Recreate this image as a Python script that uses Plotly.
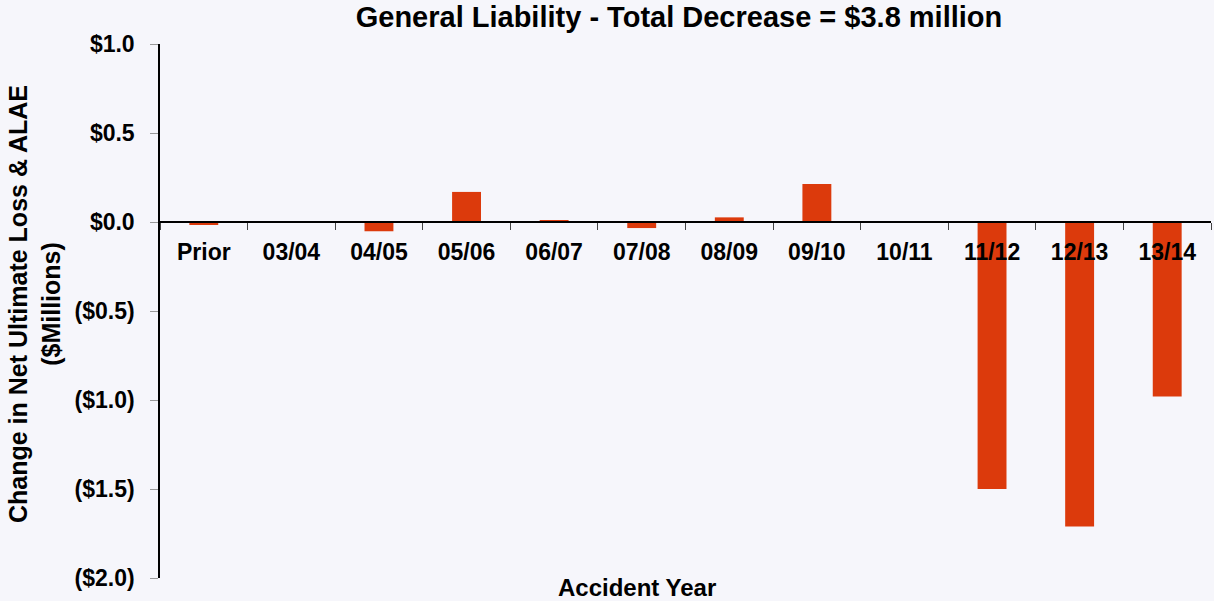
import plotly.graph_objects as go

categories = ["Prior", "03/04", "04/05", "05/06", "06/07", "07/08", "08/09",
              "09/10", "10/11", "11/12", "12/13", "13/14"]
values = [-0.017, -0.005, -0.052, 0.169, 0.010, -0.034, 0.026,
          0.213, 0.0, -1.50, -1.71, -0.98]
y_tickvals = [1.0, 0.5, 0.0, -0.5, -1.0, -1.5, -2.0]
y_ticktext = ["$1.0", "$0.5", "$0.0", "($0.5)", "($1.0)", "($1.5)", "($2.0)"]

FONT = "Liberation Sans, Arial, sans-serif"
BG = "#F6F6FB"

W, H = 1214, 601
ML, MR, MT, MB = 160, 3, 44, 23
PW, PH = W - ML - MR, H - MT - MB

fig = go.Figure()
fig.add_trace(go.Bar(
    x=categories, y=values,
    marker=dict(color="#DC3A0C", line=dict(width=0)),
    width=0.33,
))

fig.update_layout(
    width=W, height=H,
    paper_bgcolor=BG, plot_bgcolor=BG,
    margin=dict(l=ML, r=MR, t=MT, b=MB),
    showlegend=False,
    font=dict(family=FONT, color="black"),
    title=dict(
        text="<b>General Liability - Total Decrease = $3.8 million</b>",
        x=679 / W, xanchor="center", y=1 - 17 / H, yanchor="middle",
        xref="container", yref="container",
        font=dict(size=29, family=FONT, color="black"),
    ),
    xaxis=dict(
        type="category",
        range=[-0.5, 11.5],
        anchor="free", position=2/3,
        showline=True, linecolor="black", linewidth=2,
        ticks="outside", tickson="boundaries", ticklen=7, tickcolor="#444",
        tickwidth=1, ticklabelstandoff=9,
        tickfont=dict(size=23, family=FONT, color="black", weight="bold"),
        showgrid=False, zeroline=False,
    ),
    yaxis=dict(
        range=[-2.0, 1.0],
        tickvals=y_tickvals, ticktext=y_ticktext,
        tickfont=dict(size=23, family=FONT, color="black", weight="bold"),
        showline=True, linecolor="black", linewidth=1.5,
        ticks="outside", ticklen=8, tickcolor="#999", tickwidth=1,
        ticklabelstandoff=11,
        showgrid=False, zeroline=False,
    ),
    annotations=[
        dict(text="<b>Change in Net Ultimate Loss & ALAE<br>($Millions)</b>",
             x=(34 - ML) / PW, y=(H - MB - 304) / PH, xref="paper", yref="paper",
             xanchor="center", yanchor="middle", textangle=-90, showarrow=False,
             font=dict(size=25, family=FONT, color="black")),
        dict(text="<b>Accident Year</b>", x=(637 - ML) / PW, y=(H - MB - 587) / PH,
             xref="paper", yref="paper",
             xanchor="center", yanchor="middle", showarrow=False,
             font=dict(size=24, family=FONT, color="black")),
    ],
)

fig.write_html("out.html", config={"displayModeBar": False},
               post_script="document.body.style.margin='0';document.body.style.overflow='hidden';")
